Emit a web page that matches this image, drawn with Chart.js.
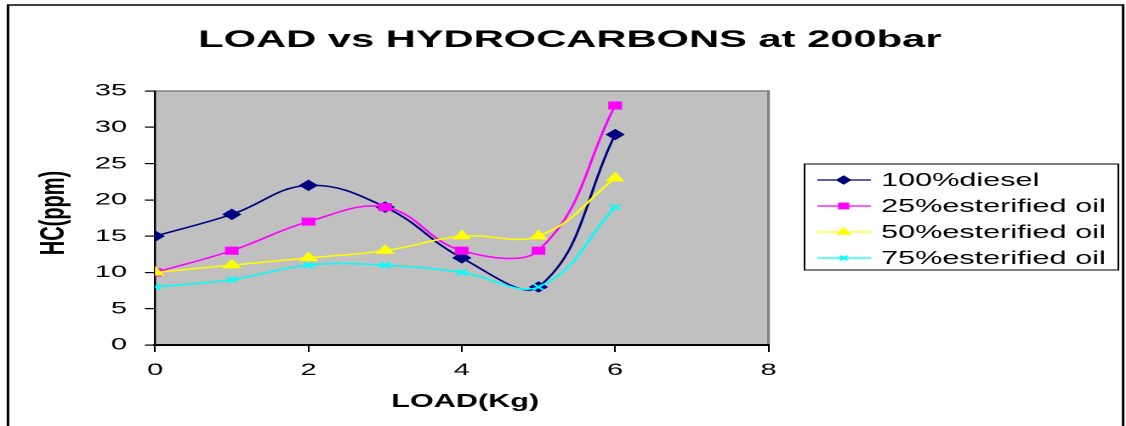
<!DOCTYPE html>
<html>
<head>
<meta charset="utf-8">
<script src="https://cdn.jsdelivr.net/npm/chart.js@4.4.1/dist/chart.umd.min.js"></script>
<style>
  html, body { margin: 0; padding: 0; background: #fff; }
</style>
</head>
<body>
<!-- the original picture is an Excel chart stretched sideways, so the canvas is drawn narrow and widened by CSS -->
<canvas id="hcChart" width="662" height="426" style="width:1126px;height:426px"></canvas>
<script>
// data
const loads = [0, 1, 2, 3, 4, 5, 6];
const diesel100 = [15, 18, 22, 19, 12, 8, 29];
const ester25 = [10, 13, 17, 19, 13, 13, 33];
const ester50 = [10, 11, 12, 13, 15, 15, 23];
const ester75 = [8, 9, 11, 11, 10, 8, 19];
const seriesNames = ['100%diesel', '25%esterified oil', '50%esterified oil', '75%esterified oil'];
const xTicks = [0, 2, 4, 6, 8];
const yTicks = [0, 5, 10, 15, 20, 25, 30, 35];

const FONT = '"Liberation Sans", Arial, sans-serif';

function toPoints(vals) {
    return loads.map((x, i) => ({ x: x, y: vals[i] }));
}

function makeSet(label, vals, color, style, radius, order) {
    return {
        label: label,
        data: toPoints(vals),
        borderColor: color,
        backgroundColor: color,
        pointBackgroundColor: color,
        pointBorderColor: color,
        pointStyle: style,
        pointRadius: radius,
        pointBorderWidth: style === 'crossRot' ? 1.6 : 1,
        borderWidth: 1.5,
        tension: 0.4,
        fill: false,
        order: order
    };
}

// gray plot background + gray top/right edge
const plotBackground = {
    id: 'plotBackground',
    beforeDraw(chart) {
        const { ctx, chartArea: a } = chart;
        ctx.save();
        ctx.fillStyle = '#c0c0c0';
        ctx.fillRect(a.left, a.top, a.right - a.left, a.bottom - a.top);
        ctx.strokeStyle = '#808080';
        ctx.lineWidth = 1.6;
        ctx.beginPath();
        ctx.moveTo(a.left, a.top);
        ctx.lineTo(a.right, a.top);
        ctx.lineTo(a.right, a.bottom);
        ctx.stroke();
        ctx.restore();
    }
};

// titles, legend box and outer frame
const decorations = {
    id: 'decorations',
    afterDraw(chart) {
        const ctx = chart.ctx;
        ctx.save();
        ctx.fillStyle = '#000';

        // outer frame
        ctx.strokeStyle = '#000';
        ctx.lineWidth = 1.5;
        ctx.beginPath();
        ctx.moveTo(4.7, 430);
        ctx.lineTo(4.7, 5);
        ctx.lineTo(660.3, 5);
        ctx.lineTo(660.3, 430);
        ctx.stroke();

        // chart title
        ctx.font = 'bold 24.5px ' + FONT;
        ctx.textAlign = 'center';
        ctx.textBaseline = 'alphabetic';
        ctx.fillText('LOAD vs HYDROCARBONS at 200bar', 335, 47);

        // axis titles
        ctx.font = 'bold 18px ' + FONT;
        ctx.textBaseline = 'middle';
        ctx.fillText('LOAD(Kg)', 273.5, 402);
        ctx.save();
        ctx.translate(32, 213);
        ctx.rotate(-Math.PI / 2);
        ctx.font = 'bold 20px ' + FONT;
        ctx.fillText('HC(ppm)', 0, 0);
        ctx.restore();

        // legend
        const bx = 473, by = 164, bw = 184.5, bh = 106;
        ctx.fillStyle = '#fff';
        ctx.fillRect(bx, by, bw, bh);
        ctx.strokeStyle = '#000';
        ctx.lineWidth = 1;
        ctx.strokeRect(bx, by, bw, bh);

        const rowY = [180, 206, 232, 258];
        chart.data.datasets.forEach((ds, i) => {
            const y = rowY[i];
            ctx.strokeStyle = ds.borderColor;
            ctx.lineWidth = 1.2;
            ctx.beginPath();
            ctx.moveTo(480.5, y);
            ctx.lineTo(512, y);
            ctx.stroke();
            ctx.fillStyle = ds.backgroundColor;
            ctx.strokeStyle = ds.borderColor;
            ctx.lineWidth = ds.pointBorderWidth;
            Chart.helpers.drawPoint(ctx, {
                pointStyle: ds.pointStyle,
                radius: ds.pointRadius * 0.8,
                rotation: 0,
                borderWidth: ds.pointBorderWidth
            }, 496, y);
            ctx.fillStyle = '#000';
            ctx.font = '18px ' + FONT;
            ctx.textAlign = 'left';
            ctx.textBaseline = 'middle';
            ctx.fillText(ds.label, 518, y + 1);
        });
        ctx.restore();
    }
};

const ctx = document.getElementById('hcChart').getContext('2d');
new Chart(ctx, {
    type: 'line',
    data: {
        datasets: [
            makeSet(seriesNames[0], diesel100, '#000080', 'rectRot', 5, 3),
            makeSet(seriesNames[1], ester25, '#ff00ff', 'rect', 5, 2),
            makeSet(seriesNames[2], ester50, '#ffff00', 'triangle', 5.5, 1),
            makeSet(seriesNames[3], ester75, '#00ffff', 'crossRot', 4, 0)
        ]
    },
    options: {
        responsive: false,
        devicePixelRatio: 2,
        animation: false,
        layout: { padding: { left: 0, top: 91, right: 210.2, bottom: 0 } },
        plugins: {
            legend: { display: false },
            title: { display: false },
            tooltip: { enabled: false }
        },
        scales: {
            x: {
                type: 'linear',
                min: 0,
                max: 8,
                afterBuildTicks: (s) => { s.ticks = xTicks.map(v => ({ value: v })); },
                afterFit: (s) => { s.height = 81; },
                grid: { drawOnChartArea: false, drawTicks: true, tickLength: 7, color: '#000', lineWidth: 1 },
                border: { color: '#000', width: 2 },
                ticks: { color: '#000', padding: 8, font: { family: FONT, size: 17 } }
            },
            y: {
                min: 0,
                max: 35,
                afterBuildTicks: (s) => { s.ticks = yTicks.map(v => ({ value: v })); },
                afterFit: (s) => { s.width = 91.2; },
                grid: { drawOnChartArea: false, drawTicks: true, tickLength: 6, color: '#000', lineWidth: 1.2 },
                border: { color: '#000', width: 1.2 },
                ticks: { color: '#000', padding: 10.5, font: { family: FONT, size: 17 } }
            }
        }
    },
    plugins: [plotBackground, decorations]
});
</script>
</body>
</html>
